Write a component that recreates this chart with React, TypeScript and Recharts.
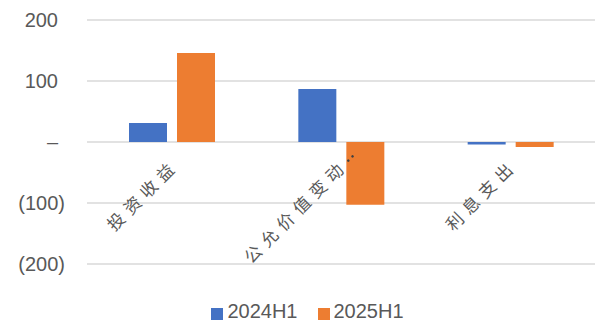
import React from "react";
import { BarChart, Bar, XAxis, YAxis, CartesianGrid, Legend } from "recharts";

const categories = ["投资收益", "公允价值变动损益", "利息支出"];
const series2024H1 = [31, 87, -4];
const series2025H1 = [146, -103, -8];
const yTicks = [-200, -100, 0, 100, 200];

const W = 600;
const H = 326;
const TOP = 20;
const PLOT_H = 244;
const Y_MIN = -200;
const Y_MAX = 200;
const ZERO_Y = TOP + (PLOT_H * Y_MAX) / (Y_MAX - Y_MIN);

const TEXT = "#595959";
const LATIN = "'Liberation Sans', Arial, sans-serif";
const CJK = "'Noto Sans CJK SC', 'Liberation Sans', sans-serif";

const data = categories.map((name, i) => ({
  name,
  a: series2024H1[i],
  b: series2025H1[i],
}));

// accounting style: 0 -> dash, negatives in parentheses
const fmt = (v: number) => (v === 0 ? "–" : v < 0 ? `(${Math.abs(v)})` : `${v}`);

function YTick(props: any) {
  const { x, y, payload } = props;
  const v = payload.value as number;
  return (
    <text
      x={v < 0 ? x : x - 7}
      y={y}
      dy={7}
      textAnchor="end"
      fill={TEXT}
      fontSize={20}
      fontFamily={LATIN}
    >
      {fmt(v)}
    </text>
  );
}

// category labels sit on the zero line, rotated 45°, long names cut to 6 chars
function XTick(props: any) {
  const { x, payload } = props;
  const full = String(payload.value);
  const cut = full.length > 6;
  const label = cut ? full.slice(0, 6) : full;
  const px = x + 8;
  const py = ZERO_Y + 25;
  return (
    <g transform={`translate(${px},${py}) rotate(-45)`}>
      <text x={0} y={0} textAnchor="end" fill={TEXT} fontSize={17} letterSpacing={6} fontFamily={CJK}>
        {label}
      </text>
      {cut && (
        <g fill="#404040">
          <circle cx={4} cy={-5} r={1.3} />
          <circle cx={10} cy={-5} r={1.3} />
        </g>
      )}
    </g>
  );
}

export default function App() {
  return (
    <div style={{ position: "absolute", left: 0, top: 0, width: W, height: H, background: "#fff" }}>
      <BarChart
        width={W}
        height={H}
        data={data}
        margin={{ top: TOP, right: 5, left: 0, bottom: 0 }}
        barSize={38}
        barGap={10}
      >
        <CartesianGrid vertical={false} stroke="#d9d9d9" strokeWidth={1.5} />
        <XAxis
          dataKey="name"
          axisLine={false}
          tickLine={false}
          height={30}
          tick={<XTick />}
          interval={0}
        />
        <YAxis
          domain={[Y_MIN, Y_MAX]}
          ticks={yTicks}
          axisLine={false}
          tickLine={false}
          width={87}
          tick={<YTick />}
          tickMargin={16}
        />
        <Legend
          verticalAlign="bottom"
          height={32}
          iconType="square"
          iconSize={12}
          wrapperStyle={{ top: 300, left: 20 }}
          formatter={(value: string) => (
            <span style={{ color: TEXT, fontSize: 20, fontFamily: LATIN, marginRight: 10 }}>{value}</span>
          )}
        />
        <Bar dataKey="a" name="2024H1" fill="#4472C4" isAnimationActive={false} />
        <Bar dataKey="b" name="2025H1" fill="#ED7D31" isAnimationActive={false} />
      </BarChart>
    </div>
  );
}
